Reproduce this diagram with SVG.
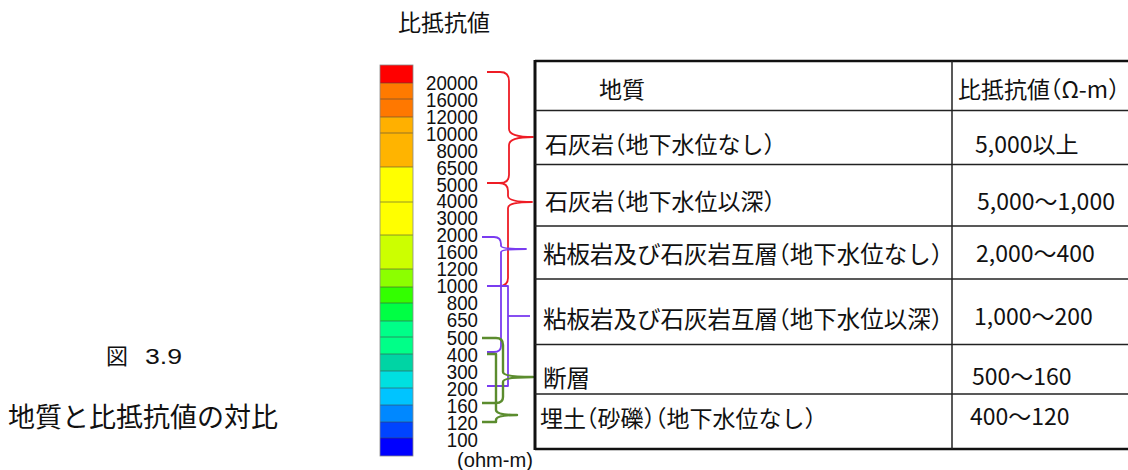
<svg xmlns="http://www.w3.org/2000/svg" width="1128" height="470" viewBox="0 0 1128 470">
<style>
.jp{font-family:"Noto Sans CJK JP","Liberation Sans",sans-serif;fill:#111}
.num{font-family:"Liberation Sans",Arial,sans-serif;font-size:21px;fill:#111;text-anchor:end}
.cell{font-family:"Noto Sans CJK JP","Liberation Sans",sans-serif;font-size:23px;fill:#111;font-feature-settings:"halt"}
.big{font-size:23.5px}
.sep{stroke:#444;stroke-width:0.8;opacity:0.7}
.tl{stroke:#222;stroke-width:1.5;fill:none}
.br{fill:none;stroke-width:1.8;stroke-linejoin:round}
.red{stroke:#ee1c25}
.pur{stroke:#7a3cf0}
.grn{stroke:#5b8c2e;stroke-width:2.4}
</style>
<rect width="1128" height="470" fill="#fff"/>

<g id="caption">
<text class="jp" x="106" y="364" font-size="22">図</text>
<text x="145" y="364" font-family="Liberation Sans,Arial,sans-serif" font-size="22" fill="#111" textLength="37" lengthAdjust="spacingAndGlyphs">3.9</text>
<text class="jp" x="8" y="427" font-size="27">地質と比抵抗値の対比</text>
</g>

<g id="colorbar">
<text class="jp" x="398" y="31" font-size="23">比抵抗値</text>
<rect x="380" y="65" width="33" height="18" fill="#ff0000"/>
<rect x="380" y="83" width="33" height="16" fill="#ff7a00"/>
<rect x="380" y="99" width="33" height="18" fill="#ff7800"/>
<rect x="380" y="117" width="33" height="16" fill="#ffb000"/>
<rect x="380" y="133" width="33" height="34" fill="#ffb400"/>
<rect x="380" y="167" width="33" height="35" fill="#ffff00"/>
<rect x="380" y="202" width="33" height="33" fill="#ffff00"/>
<rect x="380" y="235" width="33" height="34" fill="#ccff00"/>
<rect x="380" y="269" width="33" height="18" fill="#8cff00"/>
<rect x="380" y="287" width="33" height="16" fill="#33ff00"/>
<rect x="380" y="303" width="33" height="18" fill="#00ff44"/>
<rect x="380" y="321" width="33" height="16" fill="#00ff88"/>
<rect x="380" y="337" width="33" height="17" fill="#00ff88"/>
<rect x="380" y="354" width="33" height="17" fill="#00d4a4"/>
<rect x="380" y="371" width="33" height="17" fill="#00e0e0"/>
<rect x="380" y="388" width="33" height="17" fill="#00c4ff"/>
<rect x="380" y="405" width="33" height="17" fill="#0088ff"/>
<rect x="380" y="422" width="33" height="16" fill="#0044ff"/>
<rect x="380" y="438" width="33" height="18" fill="#0000ff"/>
<g class="sep">
<line x1="380" y1="83" x2="413" y2="83"/><line x1="380" y1="99" x2="413" y2="99"/>
<line x1="380" y1="117" x2="413" y2="117"/><line x1="380" y1="133" x2="413" y2="133"/>
<line x1="380" y1="167" x2="413" y2="167"/><line x1="380" y1="202" x2="413" y2="202"/>
<line x1="380" y1="235" x2="413" y2="235"/><line x1="380" y1="269" x2="413" y2="269"/>
<line x1="380" y1="287" x2="413" y2="287"/><line x1="380" y1="303" x2="413" y2="303"/>
<line x1="380" y1="321" x2="413" y2="321"/><line x1="380" y1="337" x2="413" y2="337"/>
<line x1="380" y1="354" x2="413" y2="354"/><line x1="380" y1="371" x2="413" y2="371"/>
<line x1="380" y1="388" x2="413" y2="388"/><line x1="380" y1="405" x2="413" y2="405"/>
<line x1="380" y1="422" x2="413" y2="422"/><line x1="380" y1="438" x2="413" y2="438"/>
</g>
<rect x="380" y="65" width="33" height="391" fill="none" stroke="#888" stroke-width="0.8"/>
<g transform="translate(478,0) scale(0.89,1)">
<text class="num" x="0" y="90">20000</text>
<text class="num" x="0" y="107">16000</text>
<text class="num" x="0" y="124">12000</text>
<text class="num" x="0" y="141">10000</text>
<text class="num" x="0" y="158">8000</text>
<text class="num" x="0" y="175">6500</text>
<text class="num" x="0" y="192">5000</text>
<text class="num" x="0" y="208">4000</text>
<text class="num" x="0" y="225">3000</text>
<text class="num" x="0" y="242">2000</text>
<text class="num" x="0" y="259">1600</text>
<text class="num" x="0" y="276">1200</text>
<text class="num" x="0" y="293">1000</text>
<text class="num" x="0" y="310">800</text>
<text class="num" x="0" y="327">650</text>
<text class="num" x="0" y="345">500</text>
<text class="num" x="0" y="362">400</text>
<text class="num" x="0" y="379">300</text>
<text class="num" x="0" y="396">200</text>
<text class="num" x="0" y="413">160</text>
<text class="num" x="0" y="430">120</text>
<text class="num" x="0" y="447">100</text>
</g>
<text x="457" y="467" font-family="Liberation Sans,Arial,sans-serif" font-size="20" fill="#111" textLength="76" lengthAdjust="spacingAndGlyphs">(ohm-m)</text>
</g>

<g id="connectors">
<path class="br red" d="M487,72 H500 Q509,72 509,81 V129 Q509,137 533,137 Q509,137 509,145 V175 Q509,183 500,183 H487"/>
<path class="br red" d="M487,183 H499 Q508,183 508,191 V196 Q508,202 532,202 Q508,202 508,208 V278 Q508,286 499,286 H487"/>
<path class="br pur" d="M482,237 H494 Q501,237 501,244 V246 Q501,249 526,249 Q501,249 501,252 V346 Q501,352 494,352 H487"/>
<path class="br pur" d="M487,286 H508 V386 H487"/>
<line class="br pur" x1="508" y1="316" x2="530" y2="316"/>
<path class="br grn" d="M482,338 H496 Q503,338 503,345 V372 Q503,377 533,377 Q503,377 503,382 V397 Q503,403 496,403 H482"/>
<path class="br grn" d="M487,354 H496 V410 Q496,415 517,415 Q496,415 496,420 V422 H482"/>
</g>

<g id="table">
<line x1="535" y1="61" x2="1128" y2="61" stroke="#111" stroke-width="2.5"/>
<line x1="535" y1="449" x2="1128" y2="449" stroke="#111" stroke-width="2.5"/>
<line x1="535" y1="60" x2="535" y2="450" stroke="#111" stroke-width="3"/>
<line class="tl" x1="952" y1="61" x2="952" y2="449"/>
<line class="tl" x1="535" y1="110.5" x2="1128" y2="110.5"/>
<line class="tl" x1="535" y1="164.5" x2="1128" y2="164.5"/>
<line class="tl" x1="535" y1="226" x2="1128" y2="226"/>
<line class="tl" x1="535" y1="279" x2="1128" y2="279"/>
<line class="tl" x1="535" y1="344.5" x2="1128" y2="344.5"/>
<line class="tl" x1="535" y1="394" x2="1128" y2="394"/>
</g>

<g id="row-header">
<text class="cell" x="599" y="98">地質</text>
<text class="cell" x="958" y="98" font-size="22">比抵抗値（Ω-m）</text>
</g>
<g id="row-1">
<text class="cell" x="545" y="153">石灰岩（地下水位なし）</text>
<text class="cell" x="975" y="153" font-size="22">5,000以上</text>
</g>
<g id="row-2">
<text class="cell" x="545" y="210">石灰岩（地下水位以深）</text>
<text class="cell" x="977" y="210" font-size="22">5,000〜1,000</text>
</g>
<g id="row-3">
<text class="cell big" x="543" y="263">粘板岩及び石灰岩互層（地下水位なし）</text>
<text class="cell" x="976" y="262" font-size="22">2,000〜400</text>
</g>
<g id="row-4">
<text class="cell big" x="543" y="328">粘板岩及び石灰岩互層（地下水位以深）</text>
<text class="cell" x="974" y="325" font-size="22">1,000〜200</text>
</g>
<g id="row-5">
<text class="cell big" x="543" y="387">断層</text>
<text class="cell" x="972" y="385" font-size="22">500〜160</text>
</g>
<g id="row-6">
<text class="cell" x="540" y="427" font-size="24">埋土（砂礫）（地下水位なし）</text>
<text class="cell" x="970" y="425" font-size="22">400〜120</text>
</g>
</svg>
